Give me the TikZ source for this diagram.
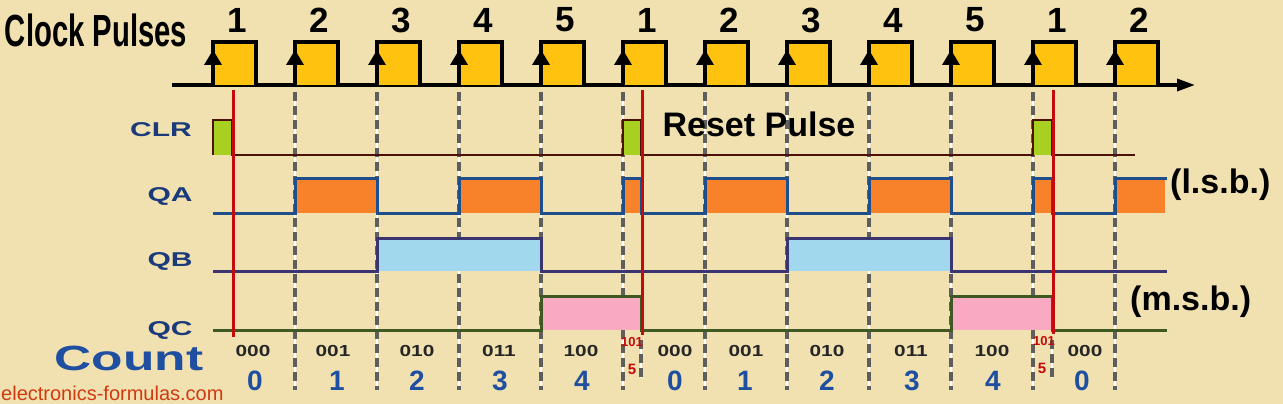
\documentclass[tikz,border=0pt]{standalone}
\usepackage{fontspec}
\setmainfont{Liberation Sans}
\usetikzlibrary{arrows.meta}
\definecolor{bg}{HTML}{F1E1B1}
\definecolor{gold}{HTML}{FFC20E}
\definecolor{qafill}{HTML}{F7822A}
\definecolor{qaline}{HTML}{1F4E8C}
\definecolor{qbfill}{HTML}{A2D8EE}
\definecolor{qbline}{HTML}{3A3570}
\definecolor{qcfill}{HTML}{F9A9C2}
\definecolor{qcline}{HTML}{3E5A22}
\definecolor{clrfill}{HTML}{A8D020}
\definecolor{clrline}{HTML}{4A1208}
\definecolor{redline}{HTML}{C40A0A}
\definecolor{lblblue}{HTML}{1A3A7A}
\definecolor{digblue}{HTML}{1F4FA0}
\definecolor{dashgray}{HTML}{5E5E5E}
\definecolor{webred}{HTML}{D03A10}
\begin{document}
\begin{tikzpicture}[x=1pt,y=-1pt,
  sig/.style={line width=3pt,line join=miter},
  dashback/.style={white,line width=2pt},
  dashfront/.style={dashgray,line width=4pt,dash pattern=on 9pt off 5pt},
  redmark/.style={redline,line width=3pt},
  lbl/.style={inner sep=0pt,font=\bfseries\fontsize{20}{20}\selectfont,text=lblblue,xscale=1.5},
  pnum/.style={inner sep=0pt,font=\bfseries\fontsize{35}{35}\selectfont,text=black},
  bin/.style={inner sep=0pt,font=\bfseries\fontsize{16}{16}\selectfont,text=black!85,xscale=1.3},
  dec/.style={inner sep=0pt,font=\bfseries\fontsize{28}{28}\selectfont,text=digblue},
  redbin/.style={inner sep=0pt,font=\bfseries\fontsize{13}{13}\selectfont,text=redline},
  big/.style={inner sep=0pt,font=\bfseries\fontsize{34}{34}\selectfont,text=black}]
\fill[bg] (0,0) rectangle (1283,404);
\useasboundingbox (0,0) rectangle (1283,404);

% dashed guide lines at rising edges
\foreach \i in {1,...,11}{
  \pgfmathsetmacro{\xx}{213+82*\i}
  \draw[dashback] (\xx,92) -- (\xx,390);
  \draw[dashfront] (\xx,92) -- (\xx,390);
}
\foreach \xx in {641,1052}{
  \draw[dashback] (\xx,340) -- (\xx,378);
  \draw[dashfront] (\xx,340) -- (\xx,378);
}

% clock
\draw[line width=3.5pt,-{Triangle[length=18pt,width=12pt]}] (172,85) -- (1195,85);
\foreach \i/\n in {0/1,1/2,2/3,3/4,4/5,5/1,6/2,7/3,8/4,9/5,10/1,11/2}{
  \pgfmathsetmacro{\xx}{213+82*\i}
  \filldraw[fill=gold,draw=black,line width=3.5pt,line join=miter] (\xx,85) -- (\xx,42) -- (\xx+43,42) -- (\xx+43,85);
  \fill[black] (\xx-9,65) -- (\xx+9,65) -- (\xx,50) -- cycle;
  \node[pnum] (p\i) at (\xx+24,20) {\n};
}

% CLR
\foreach \a/\b in {213/232,623/641,1033/1052}{
  \fill[clrfill] (\a,120) rectangle (\b,155);
}
\draw[sig,clrline,line width=2.5pt] (213,155) -- (213,120) -- (232,120) -- (232,155) -- (623,155) -- (623,120) -- (641,120) -- (641,155)
  -- (1033,155) -- (1033,120) -- (1052,120) -- (1052,155) -- (1135,155);

% QA
\foreach \a/\b in {295/377,459/541,623/641,705/787,869/951,1033/1052,1115/1165}{
  \fill[qafill] (\a,178) rectangle (\b,213);
}
\draw[sig,qaline] (213,213) -- (295,213) -- (295,178) -- (377,178) -- (377,213) -- (459,213) -- (459,178) -- (541,178) -- (541,213)
  -- (623,213) -- (623,178) -- (641,178) -- (641,213) -- (705,213) -- (705,178) -- (787,178) -- (787,213)
  -- (869,213) -- (869,178) -- (951,178) -- (951,213) -- (1033,213) -- (1033,178) -- (1052,178) -- (1052,213)
  -- (1115,213) -- (1115,178) -- (1167,178);

% QB
\foreach \a/\b in {377/541,787/951}{
  \fill[qbfill] (\a,238) rectangle (\b,271);
}
\draw[sig,qbline] (213,271) -- (377,271) -- (377,238) -- (541,238) -- (541,271) -- (787,271) -- (787,238) -- (951,238) -- (951,271) -- (1167,271);

% QC
\foreach \a/\b in {541/641,951/1052}{
  \fill[qcfill] (\a,296) rectangle (\b,330);
}
\draw[sig,qcline] (213,330) -- (541,330) -- (541,296) -- (641,296) -- (641,330) -- (951,330) -- (951,296) -- (1052,296) -- (1052,330) -- (1167,330);

% red reset lines
\draw[redmark] (233,90) -- (233,337);
\draw[redmark] (642,90) -- (642,335);
\draw[redmark] (1053,90) -- (1053,334);

% labels
\node[inner sep=0pt,font=\bfseries\fontsize{45}{45}\selectfont,xscale=0.65] (clk) at (96,30) {Clock Pulses};
\node[lbl] (clr) at (161,130) {CLR};
\node[lbl] (qa) at (170,196) {QA};
\node[lbl] (qb) at (170,261) {QB};
\node[lbl] (qc) at (170,330) {QC};
\node[inner sep=0pt,font=\bfseries\fontsize{35}{35}\selectfont,text=digblue,xscale=1.47] (count) at (129,358) {Count};
\node[big] (reset) at (759,124) {Reset Pulse};
\node[big,anchor=west] (lsb) at (1170,185) {(l.s.b.)};
\node[big,anchor=west] (msb) at (1130,302) {(m.s.b.)};

% count values
\foreach \xx/\t [count=\k] in {253/000,333/001,417/010,499/011,581/100,675/000,746/001,827/010,911/011,992/100,1085/000}{
  \node[bin] (b\k) at (\xx,351) {\t};
}
\node[redbin] (r1) at (632,342) {101};
\node[redbin] (r2) at (1044,341) {101};
\foreach \xx/\t [count=\k] in {255/0,337/1,417/2,500/3,582/4,675/0,745/1,827/2,912/3,993/4,1082/0}{
  \node[dec] (d\k) at (\xx,381) {\t};
}
\node[redbin,font=\bfseries\fontsize{15}{15}\selectfont] (f1) at (632,369) {5};
\node[redbin,font=\bfseries\fontsize{15}{15}\selectfont] (f2) at (1042,368) {5};

\node[inner sep=0pt,anchor=base west,font=\fontsize{20}{20}\selectfont,text=webred] (web) at (1,400) {electronics-formulas.com};
\end{tikzpicture}
\end{document}
